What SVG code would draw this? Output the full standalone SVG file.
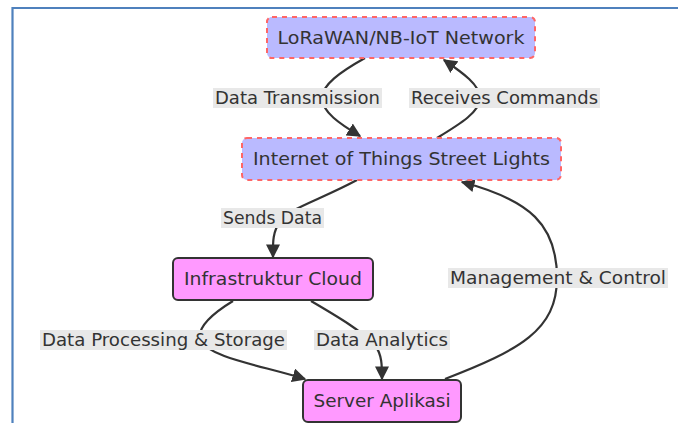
<svg xmlns="http://www.w3.org/2000/svg" width="678" height="423" viewBox="0 0 678 423">
<style>
.frame{fill:none;stroke:#4f81bd;stroke-width:2.2}
.net{fill:#babaff;stroke:#ff6666;stroke-width:2;stroke-dasharray:5 5}
.pink{fill:#ff99ff;stroke:#333;stroke-width:2}
.lbl{font-family:"DejaVu Sans",sans-serif;font-size:17px;fill:#333;text-anchor:middle;dominant-baseline:central}
.elbg{fill:#e8e8e8}
.edge{fill:none;stroke:#333;stroke-width:2.2}
</style>
<defs>
<marker id="ahb" viewBox="0 0 10 10" refX="9" refY="5" markerWidth="14" markerHeight="14" markerUnits="userSpaceOnUse" orient="auto">
<path d="M0,0 L10,5 L0,10 z" fill="#333"/>
</marker>
</defs>
<rect width="678" height="423" fill="#fff"/>
<path class="frame" d="M12.5,423 V8 H678"/>
<g id="connectors">
<path class="edge" marker-end="url(#ahb)" d="M365,58 C340,72 322,85 322,98 C322,112 340,124 360,136"/>
<path class="edge" marker-end="url(#ahb)" d="M437,138 C460,124 480,112 480,98 C480,85 463,73 444,60"/>
<path class="edge" marker-end="url(#ahb)" d="M357,180 C320,200 285,210 280,222 C272,232 273,245 273,257"/>
<path class="edge" marker-end="url(#ahb)" d="M445,379 C520,350 557,330 557,278 C557,225 530,200 462,182"/>
<path class="edge" marker-end="url(#ahb)" d="M233,301 C210,315 197,328 200,340 C210,358 260,365 305,379"/>
<path class="edge" marker-end="url(#ahb)" d="M311,301 C340,318 360,330 375,345 C382,355 382,365 382,379"/>
</g>
<g id="edge-labels">
<rect class="elbg" x="213" y="88" width="169" height="20"/>
<text class="lbl" x="297.5" y="98" textLength="165" lengthAdjust="spacingAndGlyphs">Data Transmission</text>
<rect class="elbg" x="409" y="88" width="191" height="20"/>
<text class="lbl" x="504.5" y="98" textLength="187" lengthAdjust="spacingAndGlyphs">Receives Commands</text>
<rect class="elbg" x="221" y="208" width="103" height="20"/>
<text class="lbl" x="272.5" y="218" textLength="99" lengthAdjust="spacingAndGlyphs">Sends Data</text>
<rect class="elbg" x="448" y="268" width="220" height="20"/>
<text class="lbl" x="558" y="278" textLength="216" lengthAdjust="spacingAndGlyphs">Management &amp; Control</text>
<rect class="elbg" x="40" y="330" width="247" height="20"/>
<text class="lbl" x="163.5" y="340" textLength="243" lengthAdjust="spacingAndGlyphs">Data Processing &amp; Storage</text>
<rect class="elbg" x="314" y="330" width="136" height="20"/>
<text class="lbl" x="382" y="340" textLength="132" lengthAdjust="spacingAndGlyphs">Data Analytics</text>
</g>
<g id="lorawan">
<rect class="net" x="267" y="17" width="268" height="41" rx="5"/>
<text class="lbl" x="401" y="37.5" textLength="247" lengthAdjust="spacingAndGlyphs">LoRaWAN/NB-IoT Network</text>
</g>
<g id="iot">
<rect class="net" x="242" y="138" width="319" height="42" rx="5"/>
<text class="lbl" x="401.5" y="159" textLength="297" lengthAdjust="spacingAndGlyphs">Internet of Things Street Lights</text>
</g>
<g id="cloud">
<rect class="pink" x="173" y="258" width="200" height="42" rx="5"/>
<text class="lbl" x="273" y="279" textLength="178" lengthAdjust="spacingAndGlyphs">Infrastruktur Cloud</text>
</g>
<g id="server">
<rect class="pink" x="303" y="380" width="158" height="42" rx="5"/>
<text class="lbl" x="382" y="401" textLength="137" lengthAdjust="spacingAndGlyphs">Server Aplikasi</text>
</g>
</svg>
